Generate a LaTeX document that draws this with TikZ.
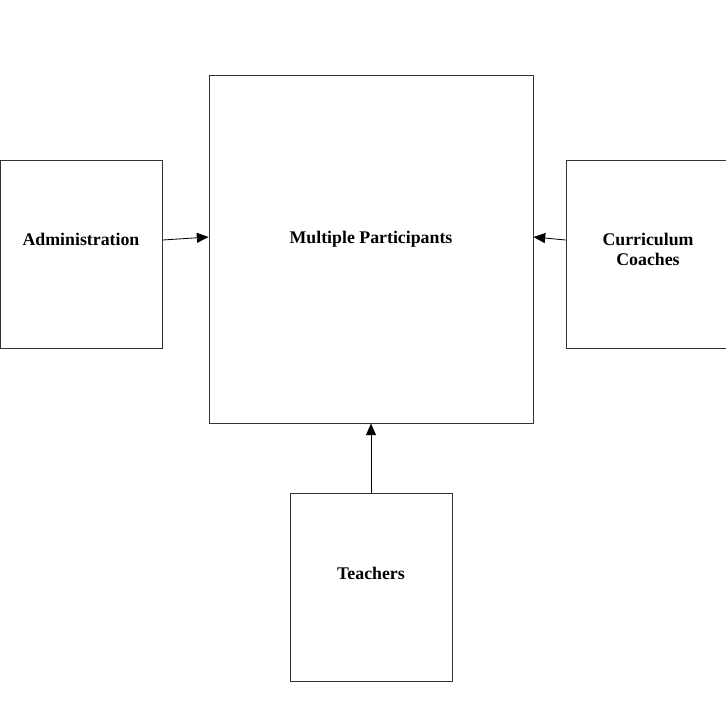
\documentclass[tikz,border=0pt]{standalone}
\usepackage{fontspec}
\setmainfont{Liberation Serif}
\usepackage{tikz}
\usetikzlibrary{arrows.meta, positioning}
\tikzset{
    part/.style={draw, rectangle, line width=0.8pt, draw=black!80, fill=white, inner sep=0pt},
    lbl/.style={align=center, font=\fontsize{15.2}{17}\selectfont\bfseries},
    arrow/.style={-{Triangle[length=10pt, width=8.5pt]}, line width=0.7pt, draw=black}
}
\begin{document}
\begin{tikzpicture}[x=0.03cm, y=-0.03cm]

        % cornice della figura
        \useasboundingbox (0,0) rectangle (726,711);

        % Riquadri
        \node (mp) [part, minimum width=324*0.03cm, minimum height=348*0.03cm] at (371, 249) {};
        \node (adm) [part, minimum width=162*0.03cm, minimum height=188*0.03cm] at (81.5, 254) {};
        \node (cc) [part, minimum width=162*0.03cm, minimum height=188*0.03cm] at (647, 254) {};
        \node (tch) [part, minimum width=162*0.03cm, minimum height=188*0.03cm] at (371, 587) {};

        % Testi
        \node (mp_txt) [lbl] at (371, 239) {Multiple Participants};
        \node (adm_txt) [lbl] at (81, 239) {Administration};
        \node (cc_txt) [lbl] at (648, 249) {Curriculum\\Coaches};
        \node (tch_txt) [lbl] at (371, 573) {Teachers};

        % Frecce
        \draw[arrow] ([yshift=14*0.03cm]adm.east) -- ([yshift=12*0.03cm]mp.west);
        \draw[arrow] ([yshift=14*0.03cm]cc.west) -- ([yshift=12*0.03cm]mp.east);
        \draw[arrow] (tch.north) -- (mp.south);

\end{tikzpicture}
\end{document}
